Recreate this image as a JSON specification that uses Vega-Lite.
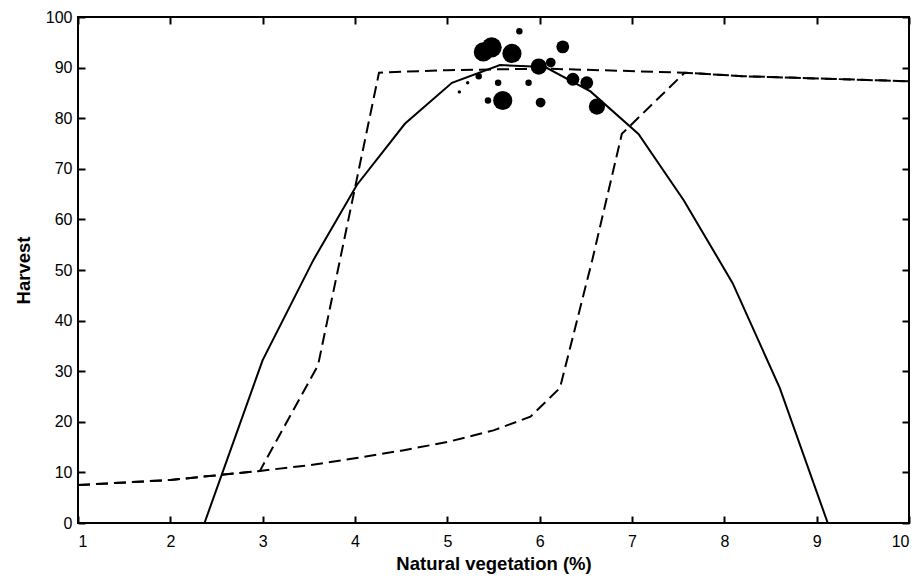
{
  "$schema": "https://vega.github.io/schema/vega-lite/v6.json",
  "width": 831,
  "height": 506,
  "autosize": {"type": "none"},
  "padding": {"left": 78, "top": 17, "right": 12, "bottom": 60},
  "background": "white",
  "config": {
    "view": {"stroke": "black", "strokeWidth": 2}
  },
  "datasets": {
    "curves": [
      {"series": "model", "x": 2.37, "y": 0},
      {"series": "model", "x": 3.0, "y": 32.2},
      {"series": "model", "x": 3.55, "y": 52},
      {"series": "model", "x": 4.02, "y": 66.8},
      {"series": "model", "x": 4.54, "y": 78.9},
      {"series": "model", "x": 5.05, "y": 87},
      {"series": "model", "x": 5.57, "y": 90.5},
      {"series": "model", "x": 6.06, "y": 90.1},
      {"series": "model", "x": 6.55, "y": 85.3},
      {"series": "model", "x": 7.07, "y": 76.9},
      {"series": "model", "x": 7.56, "y": 63.8},
      {"series": "model", "x": 8.09, "y": 47.4},
      {"series": "model", "x": 8.6, "y": 26.7},
      {"series": "model", "x": 9.12, "y": 0},
      {"series": "bound1", "x": 1.0, "y": 7.5},
      {"series": "bound1", "x": 2.0, "y": 8.5},
      {"series": "bound1", "x": 2.97, "y": 10.3},
      {"series": "bound1", "x": 3.6, "y": 31.2},
      {"series": "bound1", "x": 4.26, "y": 89.0},
      {"series": "bound1", "x": 5.0, "y": 89.5},
      {"series": "bound1", "x": 6.06, "y": 89.8},
      {"series": "bound1", "x": 7.57, "y": 89.0},
      {"series": "bound1", "x": 8.2, "y": 88.3},
      {"series": "bound1", "x": 10.0, "y": 87.3},
      {"series": "bound2", "x": 1.0, "y": 7.5},
      {"series": "bound2", "x": 2.0, "y": 8.5},
      {"series": "bound2", "x": 2.97, "y": 10.3},
      {"series": "bound2", "x": 3.5, "y": 11.4},
      {"series": "bound2", "x": 4.0, "y": 12.8},
      {"series": "bound2", "x": 4.5, "y": 14.3},
      {"series": "bound2", "x": 5.0, "y": 16.0},
      {"series": "bound2", "x": 5.5, "y": 18.3},
      {"series": "bound2", "x": 5.9, "y": 21.0},
      {"series": "bound2", "x": 6.22, "y": 26.7},
      {"series": "bound2", "x": 6.57, "y": 52.0},
      {"series": "bound2", "x": 6.89, "y": 76.9},
      {"series": "bound2", "x": 7.57, "y": 89.0},
      {"series": "bound2", "x": 8.2, "y": 88.3},
      {"series": "bound2", "x": 10.0, "y": 87.3}
    ],
    "obs": [
      {"x": 5.78, "y": 97.2, "n": 3.5},
      {"x": 5.39, "y": 93.1, "n": 31},
      {"x": 5.48, "y": 94.0, "n": 34},
      {"x": 5.70, "y": 92.8, "n": 31},
      {"x": 5.99, "y": 90.2, "n": 22},
      {"x": 6.12, "y": 91.0, "n": 8},
      {"x": 6.25, "y": 94.1, "n": 14},
      {"x": 5.34, "y": 88.3, "n": 3.5},
      {"x": 5.22, "y": 87.0, "n": 1},
      {"x": 5.13, "y": 85.2, "n": 1},
      {"x": 5.55, "y": 87.0, "n": 3.5},
      {"x": 5.88, "y": 87.0, "n": 3.5},
      {"x": 5.44, "y": 83.5, "n": 3.5},
      {"x": 5.60, "y": 83.5, "n": 31},
      {"x": 6.01, "y": 83.1, "n": 8},
      {"x": 6.36, "y": 87.7, "n": 14},
      {"x": 6.51, "y": 87.0, "n": 14},
      {"x": 6.62, "y": 82.3, "n": 22}
    ]
  },
  "resolve": {"axis": {"x": "independent", "y": "independent"}},
  "layer": [
    {
      "data": {"name": "curves"},
      "transform": [{"filter": "datum.series === 'model'"}],
      "mark": {"type": "line", "color": "black", "strokeWidth": 2, "clip": true},
      "encoding": {
        "x": {"field": "x", "type": "quantitative", "scale": {"domain": [1, 10], "nice": false},
              "axis": {"orient": "bottom", "title": "Natural vegetation (%)", "values": [1,2,3,4,5,6,7,8,9,10], "zindex": 1,
                       "domain": false, "grid": false, "tickColor": "black", "tickWidth": 2, "tickSize": -7,
                       "labelFont": "Liberation Sans", "labelFontSize": 16, "labelColor": "black", "labelPadding": 17,
                       "titleFont": "Liberation Sans", "titleFontSize": 18.5, "titleFontWeight": "bold", "titleColor": "black", "titlePadding": 5}},
        "y": {"field": "y", "type": "quantitative", "scale": {"domain": [0, 100], "nice": false},
              "axis": {"orient": "left", "title": "Harvest", "values": [0,10,20,30,40,50,60,70,80,90,100], "zindex": 1,
                       "domain": false, "grid": false, "tickColor": "black", "tickWidth": 2, "tickSize": -7,
                       "labelFont": "Liberation Sans", "labelFontSize": 16, "labelColor": "black", "labelPadding": 13,
                       "titleFont": "Liberation Sans", "titleFontSize": 18.5, "titleFontWeight": "bold", "titleColor": "black", "titlePadding": 12}}
      }
    },
    {
      "data": {"name": "curves"},
      "transform": [{"filter": "datum.series !== 'model'"}],
      "mark": {"type": "line", "color": "black", "strokeWidth": 2, "strokeDash": [12, 6], "clip": true},
      "encoding": {
        "detail": {"field": "series"},
        "x": {"field": "x", "type": "quantitative", "scale": {"domain": [1, 10], "nice": false},
              "axis": {"orient": "top", "title": null, "labels": false, "values": [1,2,3,4,5,6,7,8,9,10], "zindex": 1,
                       "domain": false, "grid": false, "tickColor": "black", "tickWidth": 2, "tickSize": -7}},
        "y": {"field": "y", "type": "quantitative", "scale": {"domain": [0, 100], "nice": false},
              "axis": {"orient": "right", "title": null, "labels": false, "values": [0,10,20,30,40,50,60,70,80,90,100], "zindex": 1,
                       "domain": false, "grid": false, "tickColor": "black", "tickWidth": 2, "tickSize": -7}}
      }
    },
    {
      "data": {"name": "obs"},
      "mark": {"type": "circle", "color": "black", "opacity": 1},
      "encoding": {
        "x": {"field": "x", "type": "quantitative", "axis": null},
        "y": {"field": "y", "type": "quantitative", "axis": null},
        "size": {"field": "n", "type": "quantitative", "scale": {"domain": [0, 32], "range": [0, 380]}, "legend": null}
      }
    }
  ]
}
